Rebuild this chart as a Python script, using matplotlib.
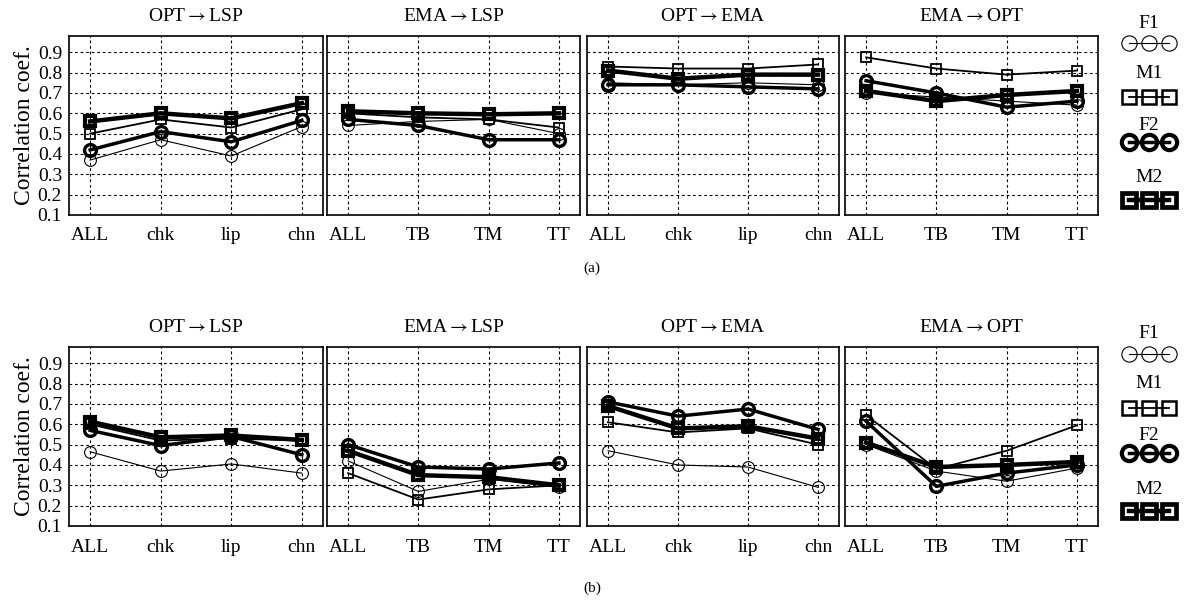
import numpy as np
import matplotlib
matplotlib.use('Agg')
import matplotlib.pyplot as plt

plt.rcParams['font.family'] = ['Liberation Serif', 'DejaVu Serif']
plt.rcParams['mathtext.fontset'] = 'stix'

# panel titles and x categories
titles = [r"OPT$\rightarrow$LSP", r"EMA$\rightarrow$LSP", r"OPT$\rightarrow$EMA", r"EMA$\rightarrow$OPT"]
cats = [["ALL", "chk", "lip", "chn"],
        ["ALL", "TB", "TM", "TT"],
        ["ALL", "chk", "lip", "chn"],
        ["ALL", "TB", "TM", "TT"]]
series = ["F1", "M1", "F2", "M2"]

# (a) correlation coefficients, one list per panel, per series
a_F1 = [[0.37, 0.47, 0.39, 0.535], [0.54, 0.56, 0.57, 0.50], [0.75, 0.74, 0.75, 0.74], [0.70, 0.68, 0.66, 0.64]]
a_M1 = [[0.50, 0.57, 0.53, 0.62], [0.60, 0.58, 0.57, 0.53], [0.83, 0.82, 0.82, 0.84], [0.875, 0.82, 0.79, 0.81]]
a_F2 = [[0.42, 0.51, 0.46, 0.565], [0.57, 0.54, 0.47, 0.47], [0.74, 0.74, 0.73, 0.72], [0.76, 0.70, 0.63, 0.66]]
a_M2 = [[0.56, 0.60, 0.575, 0.65], [0.61, 0.60, 0.595, 0.60], [0.81, 0.77, 0.79, 0.79], [0.71, 0.66, 0.69, 0.71]]

# (b)
b_F1 = [[0.465, 0.37, 0.405, 0.36], [0.42, 0.27, 0.33, 0.29], [0.47, 0.40, 0.39, 0.29], [0.50, 0.37, 0.32, 0.385]]
b_M1 = [[0.60, 0.52, 0.53, 0.52], [0.36, 0.23, 0.28, 0.30], [0.61, 0.56, 0.58, 0.50], [0.645, 0.38, 0.47, 0.595]]
b_F2 = [[0.57, 0.495, 0.54, 0.45], [0.50, 0.39, 0.38, 0.41], [0.71, 0.64, 0.675, 0.575], [0.615, 0.295, 0.36, 0.40]]
b_M2 = [[0.613, 0.536, 0.545, 0.523], [0.47, 0.35, 0.34, 0.30], [0.69, 0.58, 0.59, 0.53], [0.51, 0.39, 0.40, 0.415]]

rows = [[a_F1, a_M1, a_F2, a_M2], [b_F1, b_M1, b_F2, b_M2]]

styles = {
    "F1": dict(marker='o', ms=8.5, mew=0.8, lw=0.8),
    "M1": dict(marker='s', ms=7, mew=1.3, lw=1.3),
    "F2": dict(marker='o', ms=8.5, mew=2.4, lw=2.5),
    "M2": dict(marker='s', ms=7.5, mew=3.0, lw=3.2),
}
# legend samples are drawn a bit bigger
legend_st = {"F1": dict(ms=11, mew=0.8), "M1": dict(ms=9.5, mew=1.8),
             "F2": dict(ms=11, mew=3.0), "M2": dict(ms=10, mew=3.4)}

W, H = 1184, 605
fig = plt.figure(figsize=(W / 100, H / 100), dpi=100)

xs = [(69, 323), (327, 580), (587, 839), (845, 1098)]
ys = [(36, 215), (347, 526)]

for r, data in enumerate(rows):
    top, bot = ys[r]
    for p in range(4):
        x0, x1 = xs[p]
        ax = fig.add_axes([x0 / W, 1 - bot / H, (x1 - x0) / W, (bot - top) / H])
        x = np.arange(4)
        for name, vals in zip(series, data):
            ax.plot(x, vals[p], color='black', mfc='none', mec='black', **styles[name])
        ax.set_xlim(-0.3, 3.3)
        ax.set_ylim(0.1, 0.98)
        ax.set_xticks(x)
        ax.set_xticklabels(cats[p], fontsize=14)
        ax.set_yticks(np.arange(0.1, 0.95, 0.1))
        if p == 0:
            ax.set_yticklabels(["%.1f" % v for v in np.arange(0.1, 0.95, 0.1)], fontsize=14)
            ax.set_ylabel("Correlation coef.", fontsize=17, labelpad=2)
        else:
            ax.set_yticklabels([])
        ax.tick_params(axis='x', length=0, pad=9)
        ax.tick_params(axis='y', length=0, pad=5)
        ax.grid(True, color='black', linestyle=(0, (2.5, 2.5)), linewidth=0.8)
        ax.set_axisbelow(True)
        for s in ax.spines.values():
            s.set_linewidth(1.2)
        ax.set_title(titles[p], fontsize=14, pad=11)

    # legend column on the right
    off = top - 36
    lab_y = [23, 73, 125, 178]
    smp_y = [43, 97, 142, 200]
    for name, ly, sy in zip(series, lab_y, smp_y):
        fig.text(1149 / W, 1 - (ly + off) / H, name, ha='center', va='center', fontsize=14)
        lax = fig.add_axes([1117 / W, 1 - (sy + off + 10) / H, 64 / W, 20 / H])
        st = dict(styles[name])
        st.update(legend_st[name])
        lax.plot([0, 1, 2], [0, 0, 0], color='black', mfc='none', mec='black', **st)
        lax.set_xlim(-0.6, 2.6)
        lax.set_ylim(-1, 1)
        lax.axis('off')

fig.text(592 / W, 1 - 268 / H, "(a)", ha='center', va='center', fontsize=11)
fig.text(592 / W, 1 - 588 / H, "(b)", ha='center', va='center', fontsize=11)

fig.savefig('out.png', dpi=100)
